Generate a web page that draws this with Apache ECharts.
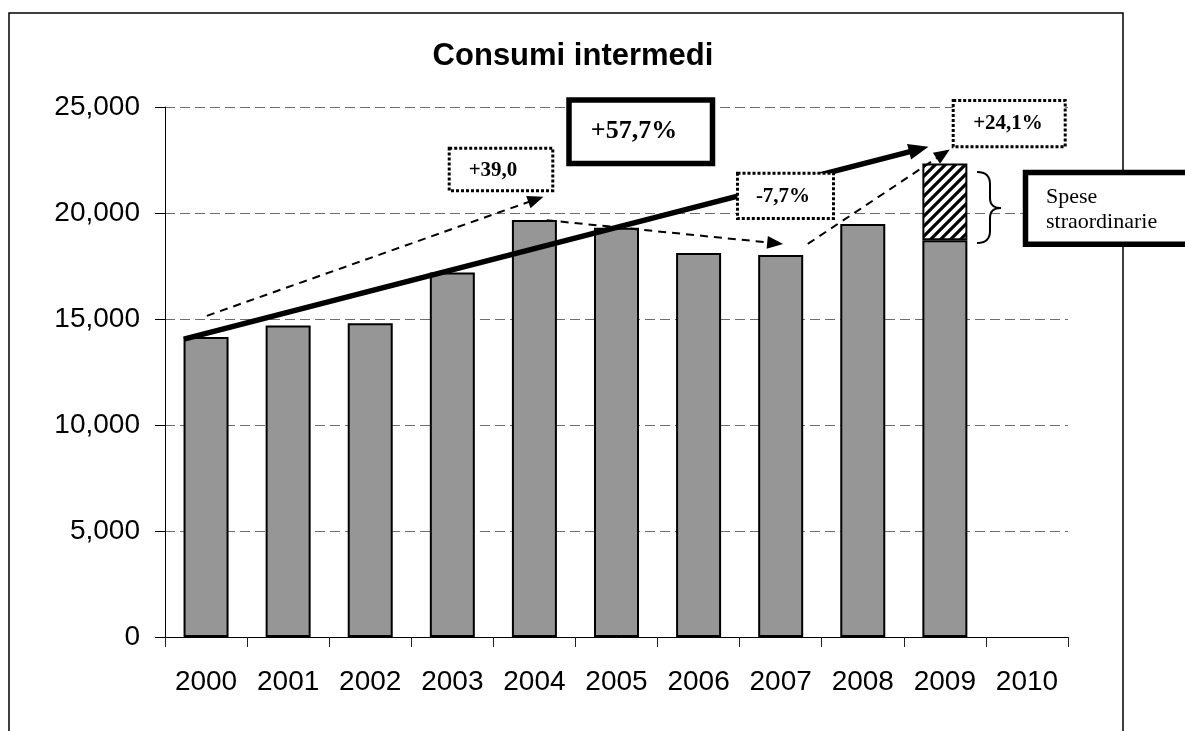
<!DOCTYPE html>
<html>
<head>
<meta charset="utf-8">
<title>Consumi intermedi</title>
<script src="https://cdn.jsdelivr.net/npm/echarts@6/dist/echarts.min.js"></script>
<style>
  html, body { margin: 0; padding: 0; background: #fff; }
  #chart { width: 1185px; height: 731px; }
</style>
</head>
<body>
<div id="chart"></div>
<script>
// Years on the category axis (2010 is kept as an empty slot)
const years = ['2000', '2001', '2002', '2003', '2004', '2005', '2006', '2007', '2008', '2009', '2010'];

// Ordinary intermediate consumption per year
const consumiOrdinari = [14150, 14690, 14800, 17190, 19670, 19310, 18110, 18020, 19480, 18710, null];

// Extraordinary expenses, stacked on top of 2009
const speseStraordinarie = [null, null, null, null, null, null, null, null, null, 3630, null];

// Value axis ticks
const yTickValues = [0, 5000, 10000, 15000, 20000, 25000];

// Variation labels written in the boxes
const variazioni = ['+57,7%', '+39,0', '-7,7%', '+24,1%'];
const noteStraordinarie = ['Spese', 'straordinarie'];

// Trend arrows in data space: [category position, value]
const frecce = [
  { from: [-0.27, 14050], to: [8.80, 23120], bold: true },
  { from: [0.01, 15150],  to: [4.11, 20770], bold: false },
  { from: [4.15, 19660],  to: [7.03, 18540], bold: false },
  { from: [7.33, 18540],  to: [9.06, 23000], bold: false }
];

const SANS = '"Liberation Sans", Arial, sans-serif';
const SERIF = '"Liberation Serif", "Times New Roman", serif';

// Diagonal hatch used for the extraordinary segment
function hatchPattern() {
  const c = document.createElement('canvas');
  c.width = 10; c.height = 10;
  const g = c.getContext('2d');
  g.fillStyle = '#fff';
  g.fillRect(0, 0, 10, 10);
  g.strokeStyle = '#000';
  g.lineWidth = 3.2;
  g.beginPath();
  g.moveTo(-5, 5); g.lineTo(5, -5);
  g.moveTo(0, 10); g.lineTo(10, 0);
  g.moveTo(5, 15); g.lineTo(15, 5);
  g.stroke();
  return c;
}

const chart = echarts.init(document.getElementById('chart'), null, { renderer: 'canvas' });

const option = {
  animation: false,
  backgroundColor: '#fff',
  grid: { left: 165, right: 117, top: 107, bottom: 94, containLabel: false },
  xAxis: {
    type: 'category',
    data: years,
    boundaryGap: true,
    axisLine: { show: true, lineStyle: { color: '#000', width: 1 } },
    axisTick: { show: true, inside: false, length: 10, alignWithLabel: false, lineStyle: { color: '#222' } },
    axisLabel: { color: '#000', fontFamily: SANS, fontSize: 28, margin: 31 },
    splitLine: { show: false }
  },
  yAxis: {
    type: 'value',
    min: 0,
    max: 25000,
    interval: 5000,
    axisLine: { show: true, lineStyle: { color: '#000', width: 1 } },
    axisTick: { show: true, inside: false, length: 10, lineStyle: { color: '#000' } },
    axisLabel: {
      color: '#000', fontFamily: SANS, fontSize: 28, margin: 25,
      formatter: v => yTickValues.includes(v) ? v.toLocaleString('en-US') : ''
    },
    splitLine: { show: true, lineStyle: { color: '#6e6e6e', width: 1, type: [10, 5] } }
  },
  series: [
    {
      name: 'Consumi intermedi',
      type: 'bar',
      stack: 'totale',
      data: consumiOrdinari,
      barWidth: 45,
      itemStyle: { color: '#969696', borderColor: '#000', borderWidth: 2 }
    },
    {
      name: 'Spese straordinarie',
      type: 'bar',
      stack: 'totale',
      data: speseStraordinarie,
      barWidth: 45,
      itemStyle: {
        color: { image: hatchPattern(), repeat: 'repeat' },
        borderColor: '#000', borderWidth: 2
      }
    }
  ]
};

chart.setOption(option);

// Pixel helpers driven by the chart's own axes
const cx0 = chart.convertToPixel({ xAxisIndex: 0 }, 0);
const cx1 = chart.convertToPixel({ xAxisIndex: 0 }, 1);
const px = pos => cx0 + pos * (cx1 - cx0);
const py = val => chart.convertToPixel({ yAxisIndex: 0 }, val);

function arrow(a, z) {
  const sx = px(a.from[0]), sy = py(a.from[1]);
  const tx = px(a.to[0]), ty = py(a.to[1]);
  const dx = tx - sx, dy = ty - sy;
  const L = Math.hypot(dx, dy);
  const ux = dx / L, uy = dy / L;
  const nx = -uy, ny = ux;
  const headLen = a.bold ? 20 : 16;
  const headW = a.bold ? 16 : 13;
  const bx = tx - ux * headLen, by = ty - uy * headLen;
  return [
    {
      type: 'line', z: z, silent: true,
      shape: { x1: sx, y1: sy, x2: bx + ux * 2, y2: by + uy * 2 },
      style: {
        stroke: '#000',
        lineWidth: a.bold ? 5.5 : 2,
        lineDash: a.bold ? null : [8, 6]
      }
    },
    {
      type: 'polygon', z: z, silent: true,
      shape: { points: [[tx, ty], [bx + nx * headW / 2, by + ny * headW / 2], [bx - nx * headW / 2, by - ny * headW / 2]] },
      style: { fill: '#000' }
    }
  ];
}

function box(x1, y1, x2, y2, dotted, width, z) {
  return {
    type: 'rect', z: z, silent: true,
    shape: { x: x1, y: y1, width: x2 - x1, height: y2 - y1 },
    style: { fill: '#fff', stroke: '#000', lineWidth: width, lineDash: dotted ? [3, 2] : null }
  };
}

function label(text, x, y, font, z, align) {
  return {
    type: 'text', z: z, silent: true, x: x, y: y,
    style: {
      text: text, fill: '#000', font: font,
      textAlign: align || 'center', textVerticalAlign: 'middle'
    }
  };
}

// Curly brace "}" sampled from quadratic segments
function bracePoints(xl, xm, xt, yTop, yMid, yBot) {
  const pts = [];
  const quad = (p0, c, p1) => {
    for (let i = 0; i <= 8; i++) {
      const t = i / 8, s = 1 - t;
      pts.push([s * s * p0[0] + 2 * s * t * c[0] + t * t * p1[0], s * s * p0[1] + 2 * s * t * c[1] + t * t * p1[1]]);
    }
  };
  quad([xl, yTop], [xm, yTop], [xm, yTop + 12]);
  quad([xm, yMid - 10], [xm, yMid], [xt, yMid]);
  quad([xt, yMid], [xm, yMid], [xm, yMid + 10]);
  quad([xm, yBot - 12], [xm, yBot], [xl, yBot]);
  return pts;
}

const graphics = [];

// outer frame
graphics.push({
  type: 'rect', z: 0, silent: true,
  shape: { x: 9, y: 13, width: 1114, height: 730 },
  style: { fill: null, stroke: '#000', lineWidth: 1.5 }
});

// chart title
graphics.push(label('Consumi intermedi', 573, 56, 'bold 31px ' + SANS, 50));

frecce.forEach((a, i) => graphics.push(...arrow(a, 60 + i)));

// variation boxes
graphics.push(box(569, 100, 712.5, 163.5, false, 5.5, 80));
graphics.push(label(variazioni[0], 634, 131, 'bold 26px ' + SERIF, 81));
graphics.push(box(449.2, 148.2, 552.8, 190.8, true, 3, 80));
graphics.push(label(variazioni[1], 493, 171, 'bold 21px ' + SERIF, 81));
graphics.push(box(737.5, 173.2, 833.5, 218.5, true, 3, 80));
graphics.push(label(variazioni[2], 783, 197, 'bold 21px ' + SERIF, 81));
graphics.push(box(953.2, 100.5, 1065.2, 146.8, true, 3, 80));
graphics.push(label(variazioni[3], 1008, 124, 'bold 21px ' + SERIF, 81));

// brace grouping the extraordinary segment
graphics.push({
  type: 'polyline', z: 70, silent: true,
  shape: { points: bracePoints(977, 990, 1001, 172, 208, 243) },
  style: { fill: null, stroke: '#000', lineWidth: 2 }
});

// extraordinary expenses note
graphics.push(box(1025.5, 172.5, 1210, 244.2, false, 5.5, 80));
graphics.push(label(noteStraordinarie[0], 1046, 197, '22px ' + SERIF, 81, 'left'));
graphics.push(label(noteStraordinarie[1], 1046, 222, '22px ' + SERIF, 81, 'left'));

chart.setOption({ graphic: graphics });
</script>
</body>
</html>
